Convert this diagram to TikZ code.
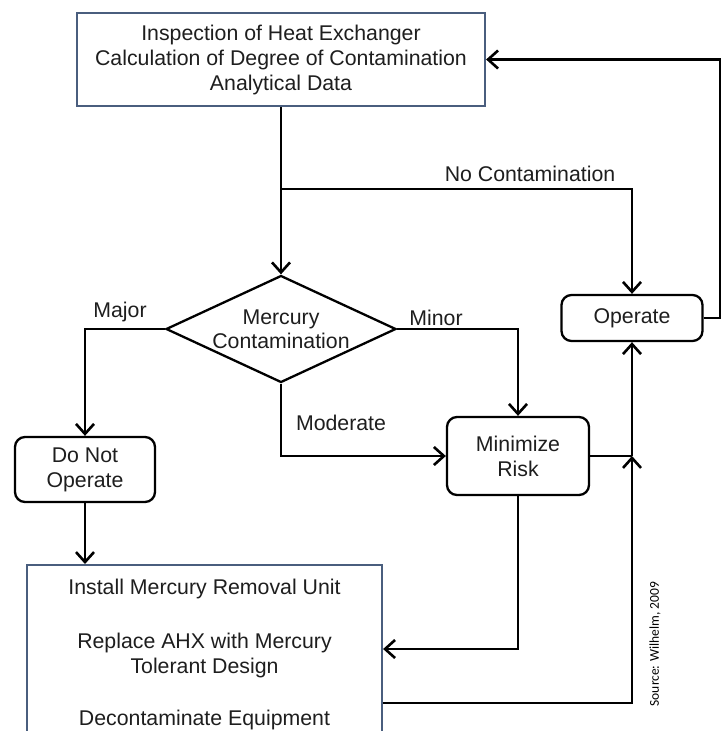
\documentclass[tikz,border=0pt]{standalone}
\usepackage{fontspec}
\setmainfont{Liberation Sans}
\newfontfamily\srcfont{Carlito}
\usetikzlibrary{shapes.geometric,arrows.meta}
\definecolor{txt}{HTML}{1E1E1E}
\definecolor{boxblue}{HTML}{4A5E7E}
\begin{document}
\begin{tikzpicture}[x=1pt,y=-1pt,
  every node/.style={font=\fontsize{21.3}{25}\selectfont, text=txt},
  sqbox/.style={draw=boxblue, line width=2.2pt, align=center, inner sep=0pt},
  rbox/.style={draw=black, line width=2.3pt, rounded corners=10pt, align=center, inner sep=0pt},
  conn/.style={draw=black, line width=2.5pt},
  arr/.style={conn, -{Straight Barb[length=10pt,width=18pt,line width=2.6pt]}},
  lbl/.style={inner sep=0pt}]
\useasboundingbox (0,0) rectangle (725,731);
\clip (0,0) rectangle (725,731);
\fill[white] (0,0) rectangle (725,731);

% nodes
\node[sqbox, minimum width=408, minimum height=93] (top) at (281,59.5)
  {Inspection of Heat Exchanger\\Calculation of Degree of Contamination\\Analytical Data};
\node[diamond, draw=black, line width=2.3pt, minimum width=230, minimum height=107, inner sep=0pt] (dia) at (281,329) {};
\node[align=center, font=\fontsize{21.3}{24}\selectfont, inner sep=0pt] (diatxt) at (281,329) {Mercury\\Contamination};
\node[rbox, minimum width=141, minimum height=46] (op) at (632,318) {Operate};
\node[rbox, minimum width=140, minimum height=65] (dno) at (85,469.5) {Do Not\\Operate};
\node[rbox, minimum width=142, minimum height=78] (min) at (518,456) {Minimize\\Risk};
\node[sqbox, anchor=north, minimum width=355, inner ysep=14pt] (bot) at (204.5,564)
  {Install Mercury Removal Unit\\[29pt]Replace AHX with Mercury\\Tolerant Design\\[27pt]Decontaminate Equipment\rule[-40pt]{0pt}{40pt}};

% labels
\node[lbl] (lnc) at (530,174) {No Contamination};
\node[lbl] (lmaj) at (120,312) {Major};
\node[lbl] (lmin) at (436,318) {Minor};
\node[lbl] (lmod) at (341,423) {Moderate};
\node[rotate=90, font=\srcfont\fontsize{13.5}{15}\selectfont, text=black, inner sep=0pt] (src) at (655,644) {Source: Wilhelm, 2009};

% helper coordinates
\coordinate (br) at (281,189);
\coordinate (rt) at (720,318);
\coordinate (jn) at (632,456);
\coordinate (y649) at (0,649);
\coordinate (y703) at (0,703);

% connectors
\draw[arr] (top.south) -- (dia.north);
\draw[arr] (br) -| (op.north);
\draw[arr] (op.east) -- (rt) |- (top.east);
\draw[arr] (dia.west) -| (dno.north);
\draw[arr] (dia.east) -| (min.north);
\draw[arr] (dia.south) |- (min.west);
\draw[arr] (dno.south) -- (dno.south |- bot.north);
\draw[arr] (min.south) |- (bot.east |- y649);
\draw[conn] (min.east) -- (jn);
\draw[arr] (jn) -- (op.south);
\draw[arr] (bot.east |- y703) -| (jn);
\end{tikzpicture}
\end{document}
